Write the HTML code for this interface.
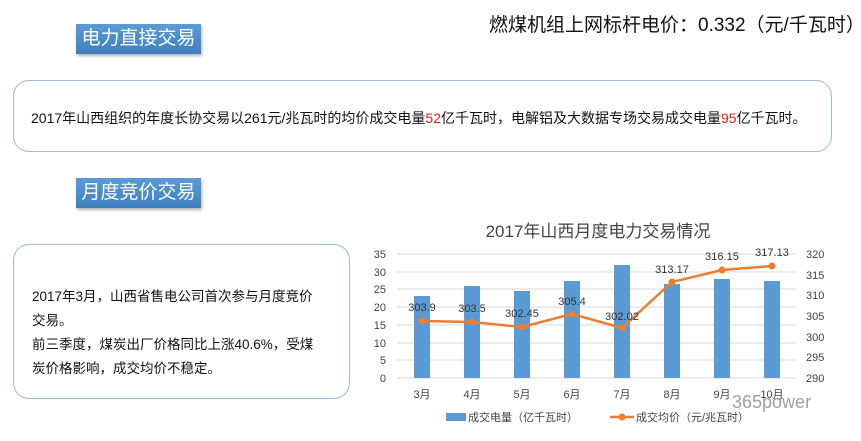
<!DOCTYPE html>
<html><head><meta charset="utf-8"><style>
body{margin:0;width:861px;height:441px;background:#fff;position:relative;overflow:hidden;font-family:"Liberation Sans","Noto Sans CJK SC",sans-serif;}
.lbl{position:absolute;left:76px;width:125px;height:30px;background:linear-gradient(#5b9bd5,#3f7fc0);color:#fff;font-size:19px;line-height:30px;text-align:center;box-shadow:1px 2px 3px rgba(0,0,0,.3);}
.box{position:absolute;border:1.5px solid #9bbad9;border-radius:16px;color:#111;}
</style></head><body>
<div class="lbl" style="top:24px">电力直接交易</div>
<div style="position:absolute;left:489px;top:10px;font-size:19px;color:#111">燃煤机组上网标杆电价：0.332（元/千瓦时）</div>
<div class="box" style="left:13px;top:80px;width:817px;height:70px;">
<div style="position:absolute;left:17px;top:27px;font-size:14px;white-space:nowrap">2017年山西组织的年度长协交易以261元/兆瓦时的均价成交电量<span style="color:#e0201c">52</span>亿千瓦时，电解铝及大数据专场交易成交电量<span style="color:#e0201c">95</span>亿千瓦时。</div></div>
<div class="lbl" style="top:178px">月度竞价交易</div>
<div class="box" style="left:13px;top:244px;width:335px;height:153px;">
<div style="position:absolute;left:18px;top:40px;font-size:13.5px;line-height:24px;white-space:nowrap">2017年3月，山西省售电公司首次参与月度竞价<br>交易。<br>前三季度，煤炭出厂价格同比上涨40.6%，受煤<br>炭价格影响，成交均价不稳定。</div></div>
<svg style="position:absolute;left:0;top:0" width="861" height="441" font-family="Liberation Sans,Noto Sans CJK SC,sans-serif">
<text x="598" y="237" font-size="17" fill="#444" text-anchor="middle">2017年山西月度电力交易情况</text>
<g stroke="#d9d9d9" stroke-width="1">
<line x1="397" x2="796" y1="254" y2="254"/><line x1="397" x2="796" y1="272" y2="272"/><line x1="397" x2="796" y1="289" y2="289"/><line x1="397" x2="796" y1="307" y2="307"/><line x1="397" x2="796" y1="325" y2="325"/><line x1="397" x2="796" y1="343" y2="343"/><line x1="397" x2="796" y1="360" y2="360"/><line x1="397" x2="796" y1="378" y2="378"/></g>
<g font-size="11" fill="#444" text-anchor="end">
<text x="386" y="258">35</text><text x="386" y="276">30</text><text x="386" y="293">25</text><text x="386" y="311">20</text><text x="386" y="329">15</text><text x="386" y="347">10</text><text x="386" y="364">5</text><text x="386" y="382">0</text></g>
<g font-size="11" fill="#444">
<text x="806" y="258">320</text><text x="806" y="279">315</text><text x="806" y="299">310</text><text x="806" y="320">305</text><text x="806" y="341">300</text><text x="806" y="361">295</text><text x="806" y="382">290</text></g>
<g fill="#5b9bd5">
<rect x="414" y="296" width="16" height="82"/><rect x="464" y="286" width="16" height="92"/><rect x="514" y="291" width="16" height="87"/><rect x="564" y="281" width="16" height="97"/><rect x="614" y="265" width="16" height="113"/><rect x="664" y="284" width="16" height="94"/><rect x="714" y="279" width="16" height="99"/><rect x="764" y="281" width="16" height="97"/></g>
<polyline fill="none" stroke="#ed7d31" stroke-width="2.5" points="422,321 472,322 522,327 572,314 622,328 672,282 722,270 772,266"/>
<g fill="#ed7d31"><circle cx="422" cy="321" r="3.5"/><circle cx="472" cy="322" r="3.5"/><circle cx="522" cy="327" r="3.5"/><circle cx="572" cy="314" r="3.5"/><circle cx="622" cy="328" r="3.5"/><circle cx="672" cy="282" r="3.5"/><circle cx="722" cy="270" r="3.5"/><circle cx="772" cy="266" r="3.5"/></g>
<g font-size="11" fill="#333" text-anchor="middle">
<text x="422" y="311">303.9</text><text x="472" y="312">303.5</text><text x="522" y="317">302.45</text><text x="572" y="305">305.4</text><text x="622" y="320">302.02</text><text x="672" y="273">313.17</text><text x="722" y="260">316.15</text><text x="772" y="256">317.13</text></g>
<g font-size="11" fill="#444" text-anchor="middle">
<text x="422" y="398">3月</text><text x="472" y="398">4月</text><text x="522" y="398">5月</text><text x="572" y="398">6月</text><text x="622" y="398">7月</text><text x="672" y="398">8月</text><text x="722" y="398">9月</text><text x="772" y="398">10月</text></g>
<rect x="446" y="413" width="20" height="8" fill="#5b9bd5"/>
<text x="468" y="421" font-size="11" fill="#444">成交电量（亿千瓦时）</text>
<line x1="610" x2="634" y1="417" y2="417" stroke="#ed7d31" stroke-width="2.5"/><circle cx="622" cy="417" r="3.5" fill="#ed7d31"/>
<text x="636" y="421" font-size="11" fill="#444">成交均价（元/兆瓦时）</text>
<text x="732" y="408" font-size="18" fill="#888" opacity="0.8">365power</text>
</svg>
</body></html>
